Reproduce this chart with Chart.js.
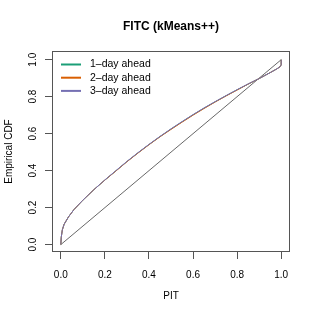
<!DOCTYPE html>
<html>
<head>
<meta charset="utf-8">
<script src="https://cdn.jsdelivr.net/npm/chart.js@4.4.1/dist/chart.umd.min.js"></script>
<style>
  html, body { margin: 0; padding: 0; background: #fff; }
  #wrap { width: 317px; height: 317px; }
</style>
</head>
<body>
<div id="wrap"><canvas id="graph" width="317" height="317"></canvas></div>
<script>
// PIT values (x) and empirical CDF per forecast horizon
const pit  = [0, 0.002, 0.007, 0.015, 0.035, 0.06, 0.1, 0.15, 0.2, 0.25, 0.3, 0.35, 0.4, 0.45, 0.5, 0.55, 0.6, 0.65, 0.7, 0.75, 0.8, 0.85, 0.9, 0.95, 0.98, 0.995, 1.0, 1.0]
const cdf1 = [0, 0.04, 0.08, 0.11, 0.15, 0.19, 0.24, 0.297, 0.349, 0.399, 0.449, 0.496, 0.541, 0.584, 0.625, 0.664, 0.702, 0.738, 0.772, 0.805, 0.837, 0.868, 0.898, 0.93, 0.95, 0.962, 0.972, 1.0]
const cdf2 = [0, 0.04, 0.08, 0.11, 0.15, 0.19, 0.24, 0.297, 0.349, 0.398, 0.448, 0.495, 0.540, 0.583, 0.623, 0.662, 0.700, 0.736, 0.771, 0.804, 0.836, 0.868, 0.898, 0.93, 0.95, 0.962, 0.972, 1.0]
const cdf3 = [0, 0.04, 0.08, 0.11, 0.15, 0.19, 0.24, 0.297, 0.35, 0.40, 0.45, 0.497, 0.542, 0.585, 0.626, 0.665, 0.703, 0.739, 0.773, 0.806, 0.838, 0.869, 0.898, 0.93, 0.95, 0.962, 0.972, 1.0]
const diag = [0, 1]
const seriesLabels = ["1\u2013day ahead", "2\u2013day ahead", "3\u2013day ahead"]
const seriesColors = ["#1B9E77", "#D95F02", "#7570B3"]
const tickValues = [0, 0.2, 0.4, 0.6, 0.8, 1.0]
const chartTitle = "FITC (kMeans++)"

const toPoints = (xs, ys) => xs.map((x, i) => ({ x: x, y: ys[i] }))

Chart.defaults.font.family = "'Liberation Sans', Arial, Helvetica, sans-serif"
Chart.defaults.font.size = 10
Chart.defaults.color = "#000"

// box, title, rotated y labels and legend drawn R-style
const rStyle = {
    id: "rStyle",
    afterDraw(chart) {
        const ctx = chart.ctx
        const a = chart.chartArea
        ctx.save()
        ctx.strokeStyle = "#555"
        ctx.lineWidth = 1
        ctx.strokeRect(a.left + 0.5, a.top + 0.5, a.right - a.left - 1, a.bottom - a.top - 1)

        ctx.fillStyle = "#000"
        ctx.font = "bold 12px 'Liberation Sans', Arial, sans-serif"
        ctx.textAlign = "center"
        ctx.textBaseline = "middle"
        ctx.fillText(chartTitle, (a.left + a.right) / 2, 27)

        const ys = chart.scales.y
        ctx.font = "10px 'Liberation Sans', Arial, sans-serif"
        ys.ticks.forEach(t => {
            ctx.save()
            ctx.translate(33, ys.getPixelForValue(t.value))
            ctx.rotate(-Math.PI / 2)
            ctx.fillText(t.value.toFixed(1), 0, 0)
            ctx.restore()
        })

        // legend
        ctx.textAlign = "left"
        ctx.font = "10.5px 'Liberation Sans', Arial, sans-serif"
        seriesLabels.forEach((label, i) => {
            const y = 64.5 + i * 13.2
            ctx.strokeStyle = seriesColors[i]
            ctx.lineWidth = 2
            ctx.beginPath()
            ctx.moveTo(61, y)
            ctx.lineTo(81, y)
            ctx.stroke()
            ctx.fillStyle = "#000"
            ctx.fillText(label, 90, y)
        })
        ctx.restore()
    }
}

const fixedTicks = (scale) => {
    scale.ticks = tickValues.map(v => ({ value: v }))
}

let chart = new Chart(
    document.getElementById("graph"),
    {
        type: "line",
        data: {
            datasets: [
                {
                    label: seriesLabels[0],
                    data: toPoints(pit, cdf1),
                    borderColor: seriesColors[0],
                    borderWidth: 1,
                    pointRadius: 0,
                    order: 2
                },
                {
                    label: seriesLabels[1],
                    data: toPoints(pit, cdf2),
                    borderColor: seriesColors[1],
                    borderWidth: 1,
                    pointRadius: 0,
                    order: 1
                },
                {
                    label: seriesLabels[2],
                    data: toPoints(pit, cdf3),
                    borderColor: seriesColors[2],
                    borderWidth: 1,
                    pointRadius: 0,
                    order: 0
                },
                {
                    label: "diagonal",
                    data: toPoints(diag, diag),
                    borderColor: "#000",
                    borderWidth: 0.6,
                    pointRadius: 0,
                    order: 3
                }
            ]
        },
        options: {
            animation: false,
            responsive: false,
            devicePixelRatio: 1,
            layout: { padding: { top: 51, left: 0, right: 27, bottom: 0 } },
            plugins: {
                legend: { display: false },
                title: { display: false },
                tooltip: { enabled: false }
            },
            scales: {
                x: {
                    type: "linear",
                    min: -0.04,
                    max: 1.04,
                    afterBuildTicks: fixedTicks,
                    afterFit: (s) => { s.height = 65 },
                    border: { display: false },
                    grid: { drawOnChartArea: false, drawTicks: true, tickLength: 7, tickColor: "#555" },
                    ticks: {
                        padding: 10,
                        maxRotation: 0,
                        callback: (v) => v.toFixed(1)
                    },
                    title: { display: true, text: "PIT", padding: { top: 0, bottom: 15 } }
                },
                y: {
                    type: "linear",
                    min: -0.04,
                    max: 1.047,
                    afterBuildTicks: fixedTicks,
                    afterFit: (s) => { s.width = 52 },
                    border: { display: false },
                    grid: { drawOnChartArea: false, drawTicks: true, tickLength: 7, tickColor: "#555" },
                    ticks: { display: false },
                    title: { display: true, text: "Empirical CDF", padding: { top: 3, bottom: 0 } }
                }
            }
        },
        plugins: [rStyle]
    }
)
</script>
</body>
</html>
